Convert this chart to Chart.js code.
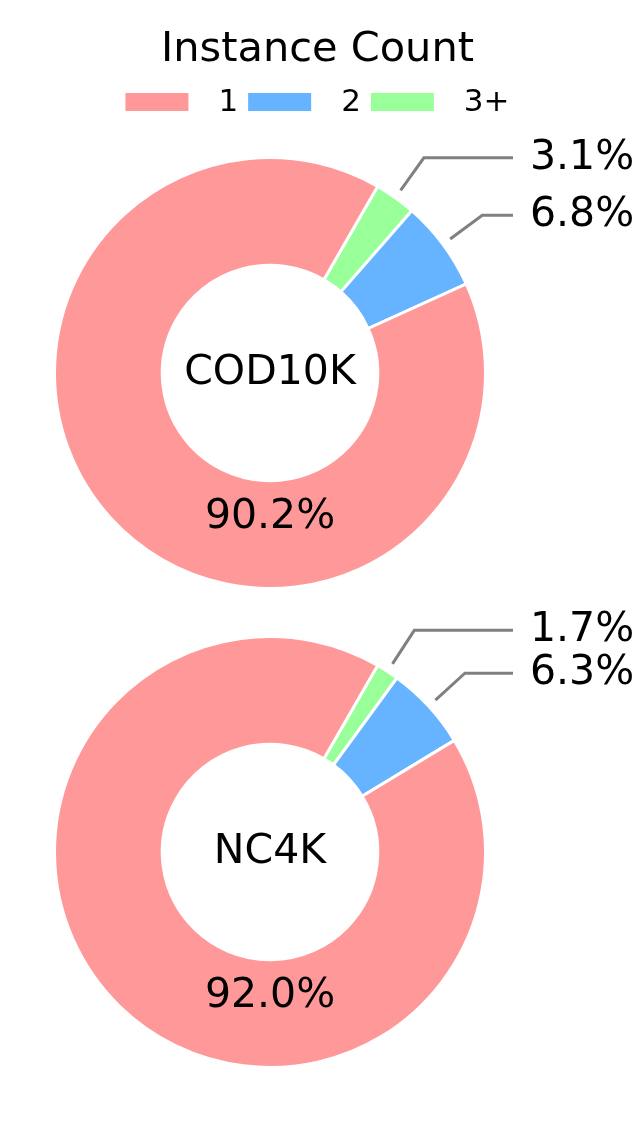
<!DOCTYPE html>
<html>
<head>
<meta charset="utf-8">
<script src="https://cdn.jsdelivr.net/npm/chart.js@4.4.0/dist/chart.umd.min.js"></script>
<style>
  html, body { margin: 0; padding: 0; background: #ffffff; }
  #wrap { position: relative; width: 635px; height: 1123px; }
  canvas { position: absolute; left: 0; }
  #top { top: 0; }
  #bottom { top: 600px; }
</style>
</head>
<body>
<div id="wrap">
  <canvas id="top" width="635" height="600"></canvas>
  <canvas id="bottom" width="635" height="523"></canvas>
</div>
<script>
// data
const categories = ['1', '2', '3+']
const datasetNames = ['COD10K', 'NC4K']
const cod10kValues = [90.2, 6.8, 3.1]
const nc4kValues = [92.0, 6.3, 1.7]
const legendTitle = 'Instance Count'

const colors = ['#ff9999', '#66b3ff', '#99ff99']
const FONT = "'DejaVu Sans', sans-serif"

// matplotlib drew counter-clockwise from 60deg, chart.js goes clockwise -> reverse
function rev(a) { return a.slice().reverse() }

// title + legend centred on the whole canvas (the built-in ones follow the padded area)
const header = {
    id: 'header',
    afterDraw(chart, args, opts) {
        if (!opts.show) return
        const ctx = chart.ctx
        const mid = chart.width / 2
        ctx.save()
        ctx.fillStyle = '#000'
        ctx.textBaseline = 'middle'
        ctx.textAlign = 'center'
        ctx.font = '41.5px ' + FONT
        ctx.fillText(legendTitle, mid, 50)

        ctx.font = '31px ' + FONT
        const boxW = 63, boxH = 18, gap = 30, sep = 10
        const widths = categories.map(c => boxW + gap + ctx.measureText(c).width)
        let x = mid - (widths.reduce((s, w) => s + w, 0) + sep * (categories.length - 1)) / 2
        ctx.textAlign = 'left'
        categories.forEach((c, i) => {
            ctx.fillStyle = colors[i]
            ctx.fillRect(x, 102 - boxH / 2, boxW, boxH)
            ctx.fillStyle = '#000'
            ctx.fillText(c, x + boxW + gap, 103)
            x += widths[i] + sep
        })
        ctx.restore()
    }
}

const donutLabels = {
    id: 'donutLabels',
    afterDatasetsDraw(chart, args, opts) {
        const ctx = chart.ctx
        const arcs = chart.getDatasetMeta(0).data
        const values = chart.data.datasets[0].data
        const cx = arcs[0].x, cy = arcs[0].y
        const R = arcs[0].outerRadius
        ctx.save()
        ctx.fillStyle = '#000'
        ctx.font = '41px ' + FONT
        ctx.textBaseline = 'middle'

        // name in the hole
        ctx.textAlign = 'center'
        ctx.fillText(opts.name, cx, cy)

        // big slice (last in reversed order) -> label at bottom
        const big = values.length - 1
        ctx.fillText(values[big].toFixed(1) + '%', cx, cy + R * 0.67)

        // small slices -> leader lines
        ctx.strokeStyle = '#808080'
        ctx.lineWidth = 3
        ctx.textAlign = 'left'
        for (let i = 0; i < big; i++) {
            const a = arcs[i]
            const m = (a.startAngle + a.endAngle) / 2
            const x1 = cx + (R + 9) * Math.cos(m), y1 = cy + (R + 9) * Math.sin(m)
            const x2 = cx + (R + 49) * Math.cos(m), y2 = cy + (R + 49) * Math.sin(m)
            ctx.beginPath()
            ctx.moveTo(x1, y1)
            ctx.lineTo(x2, y2)
            ctx.lineTo(cx + 243, y2)
            ctx.stroke()
            ctx.fillText(values[i].toFixed(1) + '%', cx + 260, y2)
        }
        ctx.restore()
    }
}

function makeDonut(el, name, values, withHeader, padding) {
    return new Chart(el, {
        type: 'doughnut',
        data: {
            labels: rev(categories),
            datasets: [{
                data: rev(values),
                backgroundColor: rev(colors),
                borderColor: '#ffffff',
                borderWidth: 3,
                hoverOffset: 0
            }]
        },
        options: {
            responsive: false,
            animation: false,
            devicePixelRatio: 1,
            rotation: 30,
            cutout: '50%',
            layout: { padding: padding },
            plugins: {
                tooltip: { enabled: false },
                legend: { display: false },
                title: { display: false },
                header: { show: withHeader },
                donutLabels: { name: name }
            }
        },
        plugins: [header, donutLabels]
    })
}

makeDonut(document.getElementById('top'), datasetNames[0], cod10kValues, true,
    { left: 53, right: 148, top: 156, bottom: 10 })
makeDonut(document.getElementById('bottom'), datasetNames[1], nc4kValues, false,
    { left: 53, right: 148, top: 35, bottom: 54 })
</script>
</body>
</html>
